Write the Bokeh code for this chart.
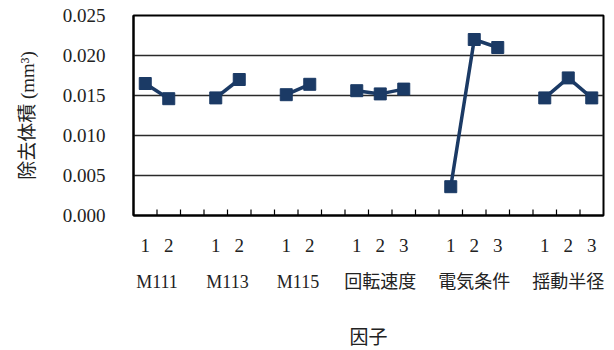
from bokeh.plotting import figure
from bokeh.models import FactorRange, Range1d, FixedTicker
from bokeh.embed import file_html
from bokeh.resources import INLINE

# ---- data ----
groups = ["M111", "M113", "M115", "回転速度", "電気条件", "揺動半径"]
levels = [["1", "2"], ["1", "2"], ["1", "2"], ["1", "2", "3"], ["1", "2", "3"], ["1", "2", "3"]]
values = [
    [0.0165, 0.0146],
    [0.0147, 0.0170],
    [0.0151, 0.0164],
    [0.0156, 0.0152, 0.0158],
    [0.0036, 0.0220, 0.0210],
    [0.0147, 0.0172, 0.0147],
]
y_ticks = [0.0, 0.005, 0.010, 0.015, 0.020, 0.025]
y_labels = ["0.000", "0.005", "0.010", "0.015", "0.020", "0.025"]
x_title = "因子"
y_title = "除去体積 (mm³)"

NAVY = "#1b3a65"
SERIF = "Liberation Serif, Noto Sans CJK JP"

factors = [(g, l) for g, ls in zip(groups, levels) for l in ls]
n_slots = len(factors) + (len(groups) - 1)

p = figure(
    width=614, height=350,
    x_range=FactorRange(*factors, factor_padding=0, group_padding=1.0, range_padding=0),
    y_range=Range1d(0, 0.025),
    output_backend="svg", toolbar_location=None,
    min_border_left=133, min_border_right=11, min_border_top=15, min_border_bottom=135,
)
p.background_fill_color = "white"
p.border_fill_color = "white"
p.outline_line_color = "black"
p.outline_line_width = 2

# grid
p.xgrid.grid_line_color = None
p.ygrid.grid_line_color = "#2a2a2a"
p.ygrid.grid_line_width = 1.3
p.ygrid.ticker = FixedTicker(ticks=y_ticks)

# y axis
p.yaxis.ticker = FixedTicker(ticks=y_ticks)
p.yaxis.major_label_overrides = {t: s for t, s in zip(y_ticks, y_labels)}
p.yaxis.major_tick_line_color = None
p.yaxis.minor_tick_line_color = None
p.yaxis.axis_line_color = "black"
p.yaxis.axis_line_width = 2
p.yaxis.major_label_standoff = 22
p.yaxis.major_label_text_font = SERIF
p.yaxis.major_label_text_font_size = "19px"
p.yaxis.major_label_text_color = "#222222"
p.yaxis.axis_label = y_title
p.yaxis.axis_label_text_font = SERIF
p.yaxis.axis_label_text_font_size = "19px"
p.yaxis.axis_label_text_font_style = "normal"
p.yaxis.axis_label_text_color = "#222222"
p.yaxis.axis_label_standoff = 22

# x axis (nested categories)
xa = p.xaxis[0]
xa.major_tick_line_color = None
xa.minor_tick_line_color = None
xa.axis_line_color = "black"
xa.axis_line_width = 2
xa.separator_line_alpha = 0
xa.major_label_orientation = "horizontal"
xa.major_label_standoff = 17
xa.major_label_text_font = SERIF
xa.major_label_text_font_size = "19px"
xa.major_label_text_color = "#222222"
xa.group_text_font = SERIF
xa.group_text_font_size = "18px"
xa.group_text_font_style = "normal"
xa.group_text_color = "#222222"
xa.axis_label = x_title
xa.axis_label_text_font = SERIF
xa.axis_label_text_font_size = "19px"
xa.axis_label_text_font_style = "normal"
xa.axis_label_text_color = "#222222"
xa.axis_label_text_line_height = 0.8
xa.axis_label_standoff = 32

# inward tick marks at slot boundaries (synthetic coordinates)
bounds = list(range(1, n_slots))
tick_len = 0.025 * 6 / 200
p.segment(x0=bounds, y0=[0] * len(bounds), x1=bounds, y1=[tick_len] * len(bounds),
          line_color="black", line_width=1.2)

# series
for g, ls, vs in zip(groups, levels, values):
    xs = [(g, l) for l in ls]
    p.line(x=xs, y=vs, line_color=NAVY, line_width=3.5)
    p.scatter(x=xs, y=vs, marker="square", size=12, fill_color=NAVY, line_color=NAVY)

open("out.html", "w").write(file_html(p, INLINE))
